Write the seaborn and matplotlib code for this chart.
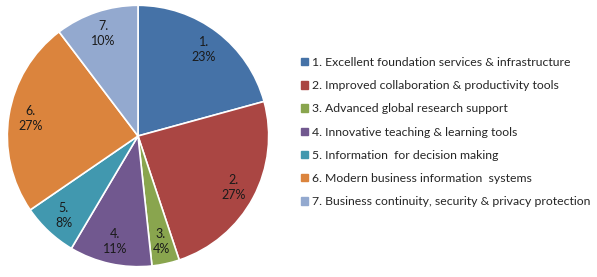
import matplotlib
matplotlib.use("Agg")
import matplotlib.pyplot as plt
from matplotlib.patches import Patch
import seaborn as sns

categories = [
    "1. Excellent foundation services & infrastructure",
    "2. Improved collaboration & productivity tools",
    "3. Advanced global research support",
    "4. Innovative teaching & learning tools",
    "5. Information  for decision making",
    "6. Modern business information  systems",
    "7. Business continuity, security & privacy protection",
]
short_labels = ["1.", "2.", "3.", "4.", "5.", "6.", "7."]
pct_labels = ["23%", "27%", "4%", "11%", "8%", "27%", "10%"]
shares = [20.7, 24.1, 3.4, 10.2, 6.9, 24.2, 10.3]
colors = ["#4572A7", "#AA4643", "#89A54E", "#71588F", "#4198AF", "#DB843D", "#93A9CF"]

sns.set_theme(style="white")
plt.rcParams["font.family"] = ["Lato", "DejaVu Sans"]
palette = sns.color_palette(colors)

W, H = 597, 277
fig = plt.figure(figsize=(W / 100, H / 100), dpi=100)
cx, cy, r = 138, 136, 132
ax = fig.add_axes([(cx - r) / W, (H - cy - r) / H, 2 * r / W, 2 * r / H])

texts_in = [f"{a}\n{b}" for a, b in zip(short_labels, pct_labels)]
wedges, texts = ax.pie(
    shares,
    colors=palette,
    startangle=90,
    counterclock=False,
    labels=texts_in,
    labeldistance=0.83,
    wedgeprops=dict(edgecolor="white", linewidth=1.2),
    textprops=dict(fontsize=9, color="#1a1a1a", linespacing=1.3),
)
for t in texts:
    t.set_ha("center")
    t.set_va("center")
ax.set_xlim(-1.01, 1.01)
ax.set_ylim(-1.01, 1.01)
ax.set_aspect("equal")
ax.axis("off")

handles = [Patch(facecolor=c, edgecolor=c) for c in palette]
fig.legend(
    handles,
    categories,
    loc="upper left",
    bbox_to_anchor=(301 / W, 1 - 57 / H),
    frameon=False,
    fontsize=8.8,
    handlelength=0.55,
    handleheight=0.55,
    handletextpad=0.35,
    labelspacing=1.0,
    borderpad=0,
    borderaxespad=0,
)

fig.savefig("out.png", dpi=100)
